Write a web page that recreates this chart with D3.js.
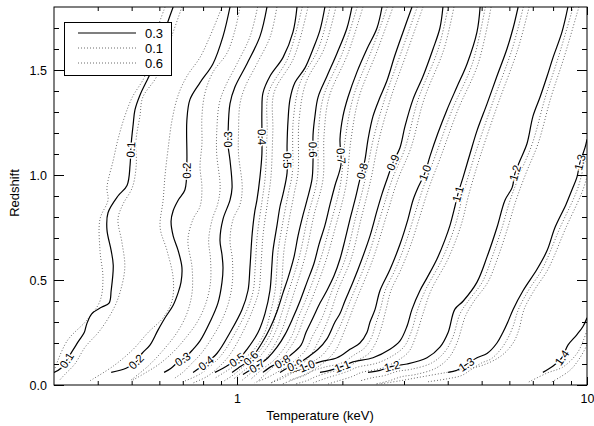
<!DOCTYPE html>
<html><head><meta charset="utf-8">
<script src="https://cdn.jsdelivr.net/npm/d3@7"></script>
<style>body{margin:0;background:#fff}svg{display:block}text{font-family:"Liberation Sans",Arial,Helvetica,sans-serif}</style>
</head><body><svg id="c" width="594" height="426"></svg>
<script>
// ---- axes data ----
const tDomain = [0.3, 10];
const zDomain = [0, 1.8];
const xMajor = [1, 10];
const xMinor = [0.4,0.5,0.6,0.7,0.8,0.9,2,3,4,5,6,7,8,9];
const yMajor = [0, 0.5, 1.0, 1.5];
const yMinor = [0.1,0.2,0.3,0.4,0.6,0.7,0.8,0.9,1.1,1.2,1.3,1.4,1.6,1.7];
const legendLabels = ["0.3","0.1","0.6"];
const levels = [0.1,0.2,0.3,0.4,0.5,0.6,0.7,0.8,0.9,1.0,1.1,1.2,1.3,1.4];

// ---- solid contours (metallicity 0.3), [T keV, z] ----
const s01=[[0.657,1.80],[0.623,1.69],[0.594,1.57],[0.564,1.48],[0.528,1.38],[0.511,1.31],[0.505,1.24],[0.498,1.14],[0.495,1.05],[0.485,0.95],[0.457,0.90],[0.428,0.82],[0.425,0.74],[0.437,0.64],[0.443,0.57],[0.437,0.45],[0.431,0.39],[0.410,0.37],[0.385,0.34],[0.372,0.29],[0.366,0.25],[0.353,0.21],[0.338,0.16],[0.314,0.08],[0.300,0.06]];
const s02=[[0.955,1.80],[0.912,1.66],[0.854,1.53],[0.784,1.44],[0.734,1.36],[0.719,1.26],[0.719,1.06],[0.710,0.93],[0.679,0.88],[0.657,0.83],[0.648,0.78],[0.657,0.71],[0.679,0.64],[0.696,0.56],[0.692,0.49],[0.679,0.44],[0.657,0.38],[0.623,0.32],[0.594,0.26],[0.564,0.19],[0.535,0.15],[0.515,0.11],[0.482,0.08],[0.437,0.06]];
const s03=[[1.218,1.80],[1.163,1.66],[1.068,1.53],[0.987,1.42],[0.955,1.34],[0.943,1.20],[0.943,1.14],[0.955,1.07],[0.968,0.94],[0.955,0.88],[0.912,0.79],[0.894,0.69],[0.906,0.62],[0.912,0.56],[0.906,0.49],[0.882,0.39],[0.837,0.30],[0.784,0.21],[0.749,0.17],[0.710,0.13],[0.679,0.11],[0.648,0.08],[0.619,0.06]];
const s04=[[1.484,1.80],[1.445,1.68],[1.354,1.56],[1.242,1.47],[1.186,1.39],[1.178,1.31],[1.178,1.21],[1.178,1.10],[1.163,0.99],[1.140,0.88],[1.125,0.83],[1.105,0.72],[1.089,0.56],[1.075,0.45],[1.034,0.36],[0.955,0.25],[0.876,0.15],[0.810,0.10],[0.749,0.06]];
const s05=[[1.783,1.80],[1.726,1.69],[1.649,1.60],[1.564,1.51],[1.464,1.44],[1.417,1.36],[1.399,1.26],[1.390,1.14],[1.390,1.01],[1.354,0.91],[1.327,0.85],[1.301,0.76],[1.267,0.64],[1.258,0.57],[1.242,0.45],[1.202,0.34],[1.148,0.25],[1.068,0.17],[1.020,0.13],[0.955,0.10],[0.912,0.08],[0.865,0.06]];
const s06=[[2.130,1.80],[2.062,1.70],[1.931,1.58],[1.807,1.47],[1.704,1.37],[1.670,1.28],[1.649,1.19],[1.649,1.07],[1.638,0.98],[1.585,0.88],[1.544,0.81],[1.494,0.71],[1.455,0.61],[1.399,0.51],[1.354,0.44],[1.301,0.35],[1.242,0.27],[1.178,0.20],[1.125,0.15],[1.068,0.11],[1.007,0.08],[0.968,0.06]];
const s07=[[2.596,1.80],[2.512,1.70],[2.351,1.60],[2.201,1.49],[2.075,1.37],[2.008,1.28],[1.969,1.17],[1.982,1.05],[1.905,0.95],[1.844,0.86],[1.783,0.76],[1.715,0.67],[1.660,0.58],[1.585,0.49],[1.514,0.40],[1.445,0.32],[1.371,0.24],[1.301,0.18],[1.226,0.13],[1.163,0.10],[1.089,0.07],[1.040,0.05]];
const s08=[[3.162,1.80],[2.980,1.68],[2.826,1.57],[2.683,1.45],[2.562,1.37],[2.447,1.28],[2.368,1.17],[2.319,1.07],[2.245,0.98],[2.172,0.88],[2.103,0.79],[2.034,0.69],[1.969,0.60],[1.893,0.52],[1.807,0.45],[1.726,0.39],[1.649,0.32],[1.574,0.25],[1.524,0.19],[1.417,0.14],[1.344,0.11],[1.258,0.09],[1.186,0.06]];
const s09=[[3.876,1.80],[3.80,1.70],[3.631,1.60],[3.400,1.47],[3.183,1.36],[3.018,1.23],[2.922,1.13],[2.791,1.06],[2.683,0.98],[2.596,0.91],[2.512,0.83],[2.399,0.71],[2.275,0.60],[2.145,0.49],[2.034,0.40],[1.969,0.34],[1.905,0.30],[1.807,0.22],[1.704,0.17],[1.585,0.13],[1.494,0.10],[1.390,0.08],[1.327,0.06]];
const s10=[[4.95,1.80],[4.848,1.68],[4.544,1.53],[4.251,1.42],[3.979,1.31],[3.751,1.20],[3.56,1.09],[3.443,1.01],[3.290,0.94],[3.183,0.88],[3.080,0.79],[2.922,0.67],[2.736,0.55],[2.562,0.45],[2.480,0.36],[2.399,0.30],[2.351,0.25],[2.245,0.20],[2.103,0.17],[1.931,0.13],[1.726,0.11],[1.585,0.09],[1.494,0.07],[1.417,0.06]];
const s11=[[6.356,1.80],[6.151,1.70],[5.905,1.60],[5.528,1.47],[5.183,1.34],[4.848,1.21],[4.63,1.10],[4.427,0.99],[4.279,0.91],[4.194,0.85],[4.06,0.76],[3.925,0.69],[3.727,0.60],[3.490,0.51],[3.333,0.45],[3.162,0.36],[3.06,0.28],[2.922,0.21],[2.736,0.17],[2.447,0.13],[2.145,0.11],[2.008,0.09],[1.844,0.07],[1.726,0.06]];
const s12=[[8.82,1.80],[8.48,1.68],[8.00,1.56],[7.69,1.47],[7.34,1.37],[7.01,1.28],[6.74,1.15],[6.44,1.07],[6.23,1.01],[6.11,0.94],[5.83,0.88],[5.53,0.75],[5.18,0.61],[4.85,0.49],[4.43,0.40],[4.19,0.36],[4.01,0.25],[3.80,0.18],[3.49,0.13],[3.06,0.10],[2.79,0.09],[2.562,0.07],[2.368,0.06]];
const s13=[[10.0,1.17],[9.87,1.13],[9.55,1.06],[9.36,0.99],[9.06,0.93],[8.71,0.86],[8.10,0.75],[7.69,0.64],[7.19,0.55],[6.57,0.45],[6.15,0.36],[5.94,0.30],[5.75,0.25],[5.53,0.20],[5.18,0.15],[4.85,0.13],[4.54,0.10],[4.25,0.07],[4.01,0.06]];
const s14=[[10.0,0.32],[9.75,0.28],[9.36,0.24],[8.82,0.19],[8.48,0.13],[8.00,0.09],[7.48,0.06]];

// ---- dotted contours (metallicities 0.1 and 0.6) ----
const d01a=[[0.623,1.80],[0.590,1.69],[0.564,1.57],[0.545,1.47],[0.502,1.37],[0.478,1.28],[0.457,1.17],[0.443,1.07],[0.425,0.94],[0.428,0.88],[0.406,0.79],[0.406,0.64],[0.414,0.51],[0.406,0.40],[0.373,0.31],[0.327,0.21],[0.302,0.08]];
const d01b=[[0.696,1.80],[0.644,1.64],[0.590,1.47],[0.538,1.37],[0.528,1.28],[0.515,1.17],[0.515,1.04],[0.502,0.94],[0.472,0.86],[0.457,0.79],[0.469,0.68],[0.478,0.56],[0.463,0.44],[0.443,0.36],[0.406,0.26],[0.368,0.18],[0.344,0.10],[0.322,0.05],[0.31,0.02]];
const d02a=[[0.906,1.80],[0.837,1.66],[0.784,1.56],[0.719,1.47],[0.679,1.38],[0.652,1.26],[0.635,1.12],[0.623,1.00],[0.615,0.88],[0.603,0.75],[0.631,0.64],[0.657,0.51],[0.652,0.40],[0.615,0.32],[0.557,0.25],[0.505,0.17],[0.443,0.09],[0.380,0.02]];
const d02b=[[1.020,1.80],[0.987,1.69],[0.936,1.58],[0.854,1.49],[0.810,1.39],[0.794,1.28],[0.794,1.15],[0.784,1.04],[0.794,0.94],[0.784,0.85],[0.749,0.79],[0.724,0.69],[0.744,0.56],[0.744,0.44],[0.719,0.34],[0.674,0.25],[0.611,0.16],[0.557,0.09],[0.495,0.02]];
const d03a=[[1.145,1.80],[1.09,1.66],[1.0,1.53],[0.925,1.42],[0.89,1.34],[0.875,1.20],[0.875,1.10],[0.895,0.94],[0.88,0.86],[0.85,0.79],[0.83,0.69],[0.84,0.60],[0.84,0.49],[0.815,0.39],[0.77,0.30],[0.71,0.22],[0.66,0.16],[0.60,0.10],[0.55,0.06],[0.50,0.02]];
const d03b=[[1.30,1.80],[1.245,1.66],[1.14,1.53],[1.055,1.42],[1.02,1.34],[1.01,1.20],[1.01,1.10],[1.035,0.94],[1.02,0.86],[0.975,0.79],[0.955,0.69],[0.97,0.60],[0.97,0.49],[0.945,0.39],[0.90,0.30],[0.845,0.22],[0.79,0.15],[0.74,0.10],[0.70,0.06],[0.66,0.03]];
const d04a=[[1.536,1.80],[1.40,1.56],[1.23,1.39],[1.219,1.21],[1.204,0.99],[1.18,0.88],[1.144,0.72],[1.127,0.56],[1.113,0.45],[1.07,0.36],[0.99,0.25],[0.91,0.15],[0.84,0.09],[0.78,0.05],[0.70,0.015]];
const d04b=[[1.595,1.80],[1.455,1.56],[1.275,1.39],[1.266,1.21],[1.25,0.99],[1.225,0.88],[1.188,0.72],[1.17,0.56],[1.155,0.45],[1.11,0.36],[1.03,0.24],[0.95,0.14],[0.88,0.08],[0.82,0.04],[0.75,0.01]];
const d05a=[[1.845,1.80],[1.707,1.60],[1.515,1.44],[1.448,1.26],[1.439,1.01],[1.401,0.91],[1.347,0.76],[1.311,0.64],[1.285,0.45],[1.244,0.34],[1.2,0.25],[1.12,0.17],[1.0,0.10],[0.92,0.06],[0.86,0.03]];
const d05b=[[1.917,1.80],[1.773,1.60],[1.574,1.44],[1.504,1.26],[1.494,1.01],[1.456,0.91],[1.399,0.76],[1.362,0.64],[1.335,0.45],[1.292,0.34],[1.25,0.25],[1.17,0.17],[1.06,0.10],[0.98,0.05],[0.92,0.02]];
const d06a=[[2.205,1.80],[1.999,1.58],[1.764,1.37],[1.707,1.19],[1.695,0.98],[1.598,0.81],[1.506,0.61],[1.401,0.44],[1.347,0.35],[1.3,0.27],[1.24,0.20],[1.14,0.12],[1.05,0.07],[0.98,0.03]];
const d06b=[[2.29,1.80],[2.076,1.58],[1.832,1.37],[1.773,1.19],[1.761,0.98],[1.66,0.81],[1.564,0.61],[1.456,0.44],[1.399,0.35],[1.35,0.27],[1.29,0.20],[1.2,0.12],[1.1,0.06],[1.03,0.02]];
const d07a=[[2.687,1.80],[2.433,1.60],[2.148,1.37],[2.038,1.17],[1.972,0.95],[1.845,0.76],[1.718,0.58],[1.567,0.40],[1.496,0.32],[1.44,0.24],[1.37,0.18],[1.28,0.12],[1.17,0.07],[1.1,0.03]];
const d07b=[[2.791,1.80],[2.527,1.60],[2.231,1.37],[2.117,1.17],[2.048,0.95],[1.917,0.76],[1.785,0.58],[1.628,0.40],[1.553,0.32],[1.49,0.24],[1.42,0.18],[1.33,0.12],[1.22,0.06],[1.15,0.02]];
const d08a=[[3.273,1.80],[2.925,1.57],[2.652,1.37],[2.451,1.17],[2.324,0.98],[2.177,0.79],[2.038,0.60],[1.870,0.45],[1.75,0.32],[1.64,0.23],[1.57,0.165],[1.46,0.115],[1.38,0.085],[1.30,0.06],[1.22,0.035],[1.12,0.01]];
const d08b=[[3.40,1.80],[3.038,1.57],[2.754,1.37],[2.546,1.17],[2.413,0.98],[2.261,0.79],[2.117,0.60],[1.943,0.45],[1.82,0.31],[1.71,0.21],[1.62,0.14],[1.51,0.09],[1.42,0.06],[1.33,0.035],[1.25,0.01]];
const d09a=[[4.012,1.80],[3.758,1.60],[3.294,1.36],[3.024,1.13],[2.777,0.98],[2.60,0.83],[2.355,0.60],[2.105,0.40],[1.97,0.28],[1.86,0.20],[1.76,0.145],[1.63,0.105],[1.54,0.075],[1.43,0.055],[1.36,0.035],[1.25,0.01]];
const d09b=[[4.167,1.80],[3.903,1.60],[3.422,1.36],[3.141,1.13],[2.884,0.98],[2.70,0.83],[2.446,0.60],[2.187,0.40],[2.03,0.26],[1.92,0.17],[1.81,0.12],[1.68,0.08],[1.58,0.05],[1.47,0.03],[1.35,0.005]];
const d10a=[[5.123,1.80],[4.703,1.53],[4.118,1.31],[3.685,1.09],[3.405,0.94],[3.188,0.79],[3.024,0.67],[2.832,0.55],[2.652,0.45],[2.567,0.36],[2.48,0.28],[2.42,0.225],[2.31,0.175],[2.17,0.145],[1.99,0.105],[1.78,0.085],[1.63,0.065],[1.54,0.045],[1.40,0.02]];
const d10b=[[5.321,1.80],[4.885,1.53],[4.277,1.31],[3.827,1.09],[3.537,0.94],[3.311,0.79],[3.141,0.67],[2.941,0.55],[2.754,0.45],[2.666,0.36],[2.58,0.27],[2.49,0.20],[2.38,0.15],[2.23,0.12],[2.05,0.08],[1.83,0.06],[1.68,0.04],[1.58,0.02],[1.47,0.005]];
const d11a=[[6.578,1.80],[6.112,1.60],[5.364,1.34],[4.792,1.10],[4.429,0.91],[4.202,0.76],[3.857,0.60],[3.45,0.45],[3.27,0.35],[3.15,0.255],[3.01,0.185],[2.82,0.145],[2.52,0.105],[2.21,0.085],[2.07,0.065],[1.90,0.045],[1.78,0.03],[1.65,0.01]];
const d11b=[[6.833,1.80],[6.348,1.60],[5.572,1.34],[4.977,1.10],[4.60,0.91],[4.365,0.76],[4.007,0.60],[3.583,0.45],[3.40,0.34],[3.24,0.23],[3.10,0.16],[2.90,0.12],[2.59,0.08],[2.27,0.06],[2.13,0.04],[1.95,0.02],[1.82,0.005]];
const d12a=[[9.13,1.80],[8.28,1.56],[7.60,1.37],[6.98,1.15],[6.45,1.01],[6.03,0.88],[5.72,0.75],[5.36,0.61],[5.02,0.49],[4.58,0.40],[4.34,0.34],[4.13,0.225],[3.91,0.155],[3.60,0.105],[3.15,0.075],[2.87,0.065],[2.64,0.045],[2.44,0.035],[2.25,0.02]];
const d12b=[[9.48,1.80],[8.60,1.56],[7.89,1.37],[7.25,1.15],[6.70,1.01],[6.27,0.88],[5.94,0.75],[5.57,0.61],[5.21,0.49],[4.76,0.40],[4.50,0.33],[4.25,0.20],[4.03,0.13],[3.70,0.08],[3.24,0.05],[2.96,0.04],[2.72,0.02],[2.50,0.005]];
const d13a=[[10.35,1.13],[9.88,1.06],[9.38,0.93],[8.38,0.75],[7.44,0.55],[6.80,0.45],[6.37,0.36],[6.15,0.28],[5.95,0.225],[5.70,0.175],[5.33,0.125],[5.0,0.105],[4.68,0.075],[4.38,0.045],[4.0,0.03],[3.5,0.015]];
const d13b=[[10.7,1.13],[10.27,1.06],[9.74,0.93],[8.71,0.75],[7.73,0.55],[7.06,0.45],[6.61,0.36],[6.38,0.26],[6.15,0.20],[5.70,0.14],[5.05,0.095],[4.5,0.075],[3.98,0.06],[3.4,0.04],[2.92,0.02],[2.56,0.005]];
const d14a=[[10.0,0.26],[9.75,0.21],[9.36,0.15],[8.54,0.086],[7.69,0.057],[6.74,0.01]];
const d14b=[[10.0,0.19],[9.55,0.13],[8.94,0.07],[7.84,0.01]];

// ---- contour label positions [level, T, z] ----
const upperLabels=[[0.1,0.495,1.12],[0.2,0.719,1.02],[0.3,0.943,1.17],[0.4,1.178,1.18],[0.5,1.390,1.07],[0.6,1.649,1.12],[0.7,1.969,1.09],[0.8,2.274,1.02],[0.9,2.791,1.06],[1.0,3.443,1.01],[1.1,4.279,0.91],[1.2,6.23,1.01],[1.3,9.55,1.06]];
const lowerLabels=[[0.1,0.325,0.12],[0.2,0.515,0.11],[0.3,0.696,0.13],[0.4,0.821,0.10],[0.5,1.0,0.12],[0.6,1.089,0.13],[0.7,1.14,0.09],[0.8,1.336,0.12],[0.9,1.464,0.10],[1.0,1.585,0.09],[1.1,2.008,0.08],[1.2,2.77,0.09],[1.3,4.51,0.10],[1.4,8.48,0.13]];

const solids=[s01,s02,s03,s04,s05,s06,s07,s08,s09,s10,s11,s12,s13,s14];
const dotted=[d01a,d01b,d02a,d02b,d03a,d03b,d04a,d04b,d05a,d05b,d06a,d06b,d07a,d07b,d08a,d08b,d09a,d09b,d10a,d10b,d11a,d11b,d12a,d12b,d13a,d13b,d14a,d14b];

// ---- drawing ----
const W=594,H=426,m={l:54,r:587,t:7,b:385};
const x=d3.scaleLog().domain(tDomain).range([m.l,m.r]);
const y=d3.scaleLinear().domain(zDomain).range([m.b,m.t]);
const svg=d3.select('#c');
svg.append('rect').attr('width',W).attr('height',H).attr('fill','#fff');
svg.append('defs').append('clipPath').attr('id','clip').append('rect')
  .attr('x',m.l).attr('y',m.t).attr('width',m.r-m.l).attr('height',m.b-m.t);
const line=d3.line().x(d=>x(d[0])).y(d=>y(d[1])).curve(d3.curveCatmullRom.alpha(0.5));
const g=svg.append('g').attr('clip-path','url(#clip)');
dotted.forEach(pts=>g.append('path').attr('d',line(pts)).attr('fill','none')
  .attr('stroke','#6a6a6a').attr('stroke-width',1).attr('stroke-dasharray','1,2'));
const solidPaths=solids.map(pts=>g.append('path').attr('d',line(pts)).attr('fill','none')
  .attr('stroke','#000').attr('stroke-width',1.2).node());

const fmt=d3.format('.1f');
const lg=g.append('g');
upperLabels.concat(lowerLabels).forEach(([lv,T,z])=>{
  const p=solidPaths[levels.indexOf(lv)];
  const L=p.getTotalLength(), px=x(T), py=y(z);
  let best=0,bd=1e12;
  for(let s=0;s<=L;s+=0.5){const q=p.getPointAtLength(s);const d=(q.x-px)**2+(q.y-py)**2;if(d<bd){bd=d;best=s;}}
  const q=p.getPointAtLength(best),a=p.getPointAtLength(Math.max(0,best-5)),b=p.getPointAtLength(Math.min(L,best+5));
  let ang=Math.atan2(b.y-a.y,b.x-a.x)*180/Math.PI;
  if(ang>90)ang-=180; if(ang<=-90)ang+=180;
  lg.append('text').attr('transform',`translate(${q.x},${q.y}) rotate(${ang})`)
    .attr('text-anchor','middle').attr('dy','0.35em').attr('font-size',11.5)
    .attr('fill','#000').attr('stroke','#fff').attr('stroke-width',3).attr('paint-order','stroke')
    .text(fmt(lv));
});

// axes
function styleAxis(sel){sel.select('.domain').remove();sel.selectAll('line').attr('stroke','#000');
  sel.selectAll('text').attr('font-size',12.5).attr('fill','#000').attr('font-family','"Liberation Sans",Arial,sans-serif');}
svg.append('g').attr('transform',`translate(0,${m.b})`).call(d3.axisBottom(x).tickValues(xMajor).tickSize(-8).tickPadding(9).tickFormat(d3.format('d'))).call(styleAxis);
svg.append('g').attr('transform',`translate(0,${m.b})`).call(d3.axisBottom(x).tickValues(xMinor).tickSize(-4).tickFormat('')).call(styleAxis);
svg.append('g').attr('transform',`translate(0,${m.t})`).call(d3.axisTop(x).tickValues(xMajor).tickSize(-8).tickFormat('')).call(styleAxis);
svg.append('g').attr('transform',`translate(0,${m.t})`).call(d3.axisTop(x).tickValues(xMinor).tickSize(-4).tickFormat('')).call(styleAxis);
svg.append('g').attr('transform',`translate(${m.l},0)`).call(d3.axisLeft(y).tickValues(yMajor).tickSize(-10).tickPadding(7).tickFormat(d3.format('.1f'))).call(styleAxis);
svg.append('g').attr('transform',`translate(${m.l},0)`).call(d3.axisLeft(y).tickValues(yMinor).tickSize(-5).tickFormat('')).call(styleAxis);
svg.append('g').attr('transform',`translate(${m.r},0)`).call(d3.axisRight(y).tickValues(yMajor).tickSize(-10).tickFormat('')).call(styleAxis);
svg.append('g').attr('transform',`translate(${m.r},0)`).call(d3.axisRight(y).tickValues(yMinor).tickSize(-5).tickFormat('')).call(styleAxis);
svg.append('rect').attr('x',m.l).attr('y',m.t).attr('width',m.r-m.l).attr('height',m.b-m.t)
  .attr('fill','none').attr('stroke','#000').attr('stroke-width',1);

svg.append('text').attr('x',320).attr('y',420).attr('text-anchor','middle').attr('font-size',13).text('Temperature (keV)');
svg.append('text').attr('transform','translate(19,193) rotate(-90)').attr('text-anchor','middle').attr('font-size',13).text('Redshift');

// legend
const leg=svg.append('g');
leg.append('rect').attr('x',64.5).attr('y',22.5).attr('width',107).attr('height',53).attr('fill','#fff').attr('stroke','#000');
legendLabels.forEach((t,i)=>{
  const yy=33+i*15;
  leg.append('line').attr('x1',78).attr('x2',136).attr('y1',yy).attr('y2',yy)
    .attr('stroke',i===0?'#000':'#6a6a6a').attr('stroke-width',i===0?1.2:1).attr('stroke-dasharray',i===0?null:'1,2');
  leg.append('text').attr('x',145).attr('y',yy+4.5).attr('font-size',13).text(t);
});
</script></body></html>
